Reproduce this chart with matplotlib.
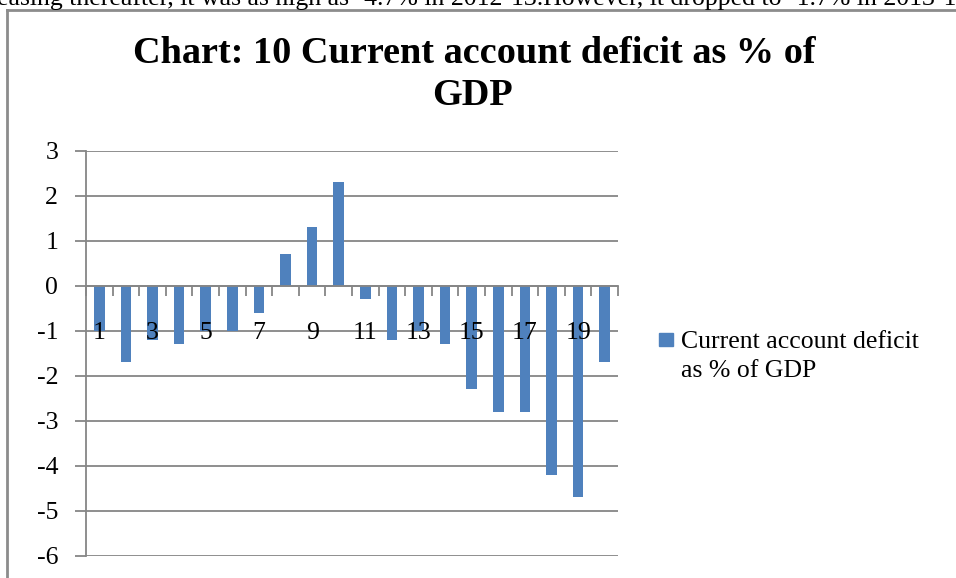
"""
Chart 10: Current account deficit as % of GDP (bar chart)
"""

import matplotlib.pyplot as plt
from matplotlib.lines import Line2D
from matplotlib.patches import Rectangle

# veriler
categories = list(range(1, 21))
cad_values = [-1.0, -1.7, -1.2, -1.3, -1.0, -1.0, -0.6, 0.7, 1.3, 2.3,
              -0.3, -1.2, -1.0, -1.3, -2.3, -2.8, -2.8, -4.2, -4.7, -1.7]
y_ticks = [3, 2, 1, 0, -1, -2, -3, -4, -5, -6]
x_labels = [1, 3, 5, 7, 9, 11, 13, 15, 17, 19]

title = "Chart: 10 Current account deficit as % of\nGDP"
series_name = "Current account deficit\nas % of GDP"
top_text = "easing thereafter, it was as high as -4.7% in 2012-13.However, it dropped to -1.7% in 2013-14"

BAR = '#4F81BD'
GRID = '#868686'
SERIF = ['Liberation Serif', 'DejaVu Serif']

W, H = 956, 578
fig = plt.figure(figsize=(W / 100, H / 100), dpi=100)

# sayfa metni (üstte kesilmiş)
fig.text(-3 / W, 1 - 5 / H, top_text, ha='left', va='baseline',
         fontsize=18.5, family=SERIF, color='black')

# grafik çerçevesi
fig.add_artist(Line2D([7 / W, 7 / W], [0, 1 - 10 / H], color='#8c8c8c', lw=2,
                      transform=fig.transFigure))
fig.add_artist(Line2D([7 / W, 1], [1 - 10 / H, 1 - 10 / H], color='#8c8c8c', lw=2,
                      transform=fig.transFigure))

ax = fig.add_axes([86 / W, 22 / H, 532 / W, 405.3 / H])

ax.bar(categories, cad_values, width=0.4, color=BAR, zorder=1)

# ızgara çizgileri çubukların arkasında
for y in y_ticks:
    ax.axhline(y, color=GRID, lw=1.3, zorder=0.5)

ax.set_xlim(0.5, 20.5)
ax.set_ylim(-6, 3)

ax.spines['top'].set_visible(False)
ax.spines['right'].set_visible(False)
ax.spines['left'].set_color(GRID)
ax.spines['left'].set_linewidth(1.3)
ax.spines['bottom'].set_position(('data', 0))
ax.spines['bottom'].set_color(GRID)
ax.spines['bottom'].set_linewidth(1.3)

ax.set_yticks(y_ticks)
ax.set_yticklabels([str(v) for v in y_ticks], family=SERIF, fontsize=18.5)
ax.tick_params(axis='y', direction='out', length=8, width=1.3, color=GRID, pad=12)

ax.set_xticks(x_labels)
ax.set_xticklabels([str(v) for v in x_labels], family=SERIF, fontsize=18.5)
ax.set_xticks([c - 0.5 for c in categories] + [20.5], minor=True)
ax.tick_params(axis='x', which='major', length=0, pad=26)
ax.tick_params(axis='x', which='minor', direction='out', length=7, width=1.3, color=GRID)

fig.text(474 / W, 1 - 63 / H, title.split('\n')[0], ha='center', va='baseline',
         fontsize=27.5, fontweight='bold', family=SERIF)
fig.text(473 / W, 1 - 105 / H, title.split('\n')[1], ha='center', va='baseline',
         fontsize=27.5, fontweight='bold', family=SERIF)

# lejant
fig.add_artist(Rectangle((659 / W, 1 - 346 / H), 14 / W, 13 / H, color=BAR,
                         transform=fig.transFigure))
fig.text(681 / W, 1 - 377 / H, series_name, ha='left', va='baseline',
         fontsize=18.5, family=SERIF, linespacing=1.4)

fig.savefig('out.png', dpi=100)
